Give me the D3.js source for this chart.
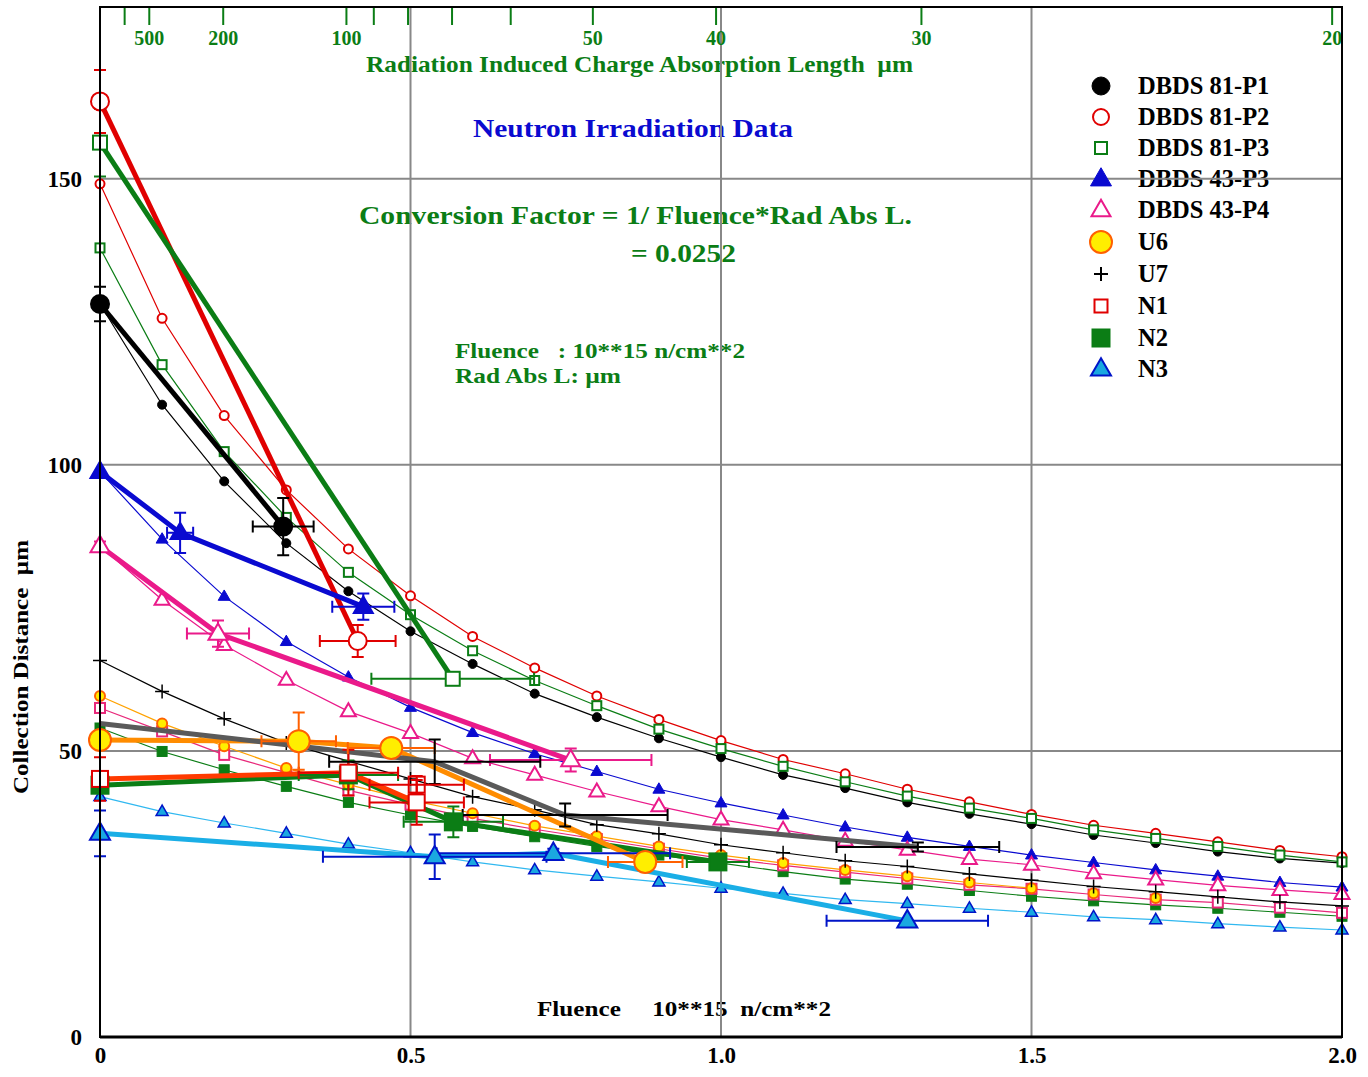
<!DOCTYPE html>
<html><head><meta charset="utf-8">
<script src="https://cdn.jsdelivr.net/npm/d3@7"></script>
<style>
body{margin:0;background:#fff}
text{font-family:"Liberation Serif","Times New Roman",serif;font-weight:bold;white-space:pre}
</style></head><body>
<svg id="chart"></svg>
<script>
// fluence grid of the computed curves (10**15 n/cm**2)
var fluenceGrid = [0,0.1,0.2,0.3,0.4,0.5,0.6,0.7,0.8,0.9,1.0,1.1,1.2,1.3,1.4,1.5,1.6,1.7,1.8,1.9,2.0];
var fitP1   = [128.1,110.5,97.1,86.3,77.9,70.9,65.2,60.0,55.9,52.2,48.9,45.8,43.5,41.0,39.0,37.2,35.3,33.9,32.4,31.2,30.4];
var fitP2   = [149.1,125.6,108.6,95.6,85.3,77.1,70.0,64.5,59.6,55.5,51.8,48.5,46.0,43.3,41.1,38.9,37.0,35.6,34.1,32.6,31.5];
var fitP3   = [137.9,117.5,102.3,90.8,81.2,73.8,67.5,62.3,57.9,53.8,50.4,47.3,44.6,42.1,40.0,38.2,36.2,34.7,33.3,31.8,30.6];
var fit43P3 = [98.8,87.0,77.0,69.1,62.9,57.6,53.2,49.5,46.4,43.3,40.9,38.8,36.7,34.9,33.3,31.8,30.5,29.2,28.1,27.0,26.2];
var fit43P4 = [85.8,76.4,68.5,62.4,56.9,53.1,48.7,45.8,42.9,40.3,38.0,36.2,34.3,32.7,31.1,30.1,28.6,27.5,26.5,25.7,25.0];
var fitU6   = [59.6,54.8,50.8,47.0,44.1,41.4,39.1,36.9,35.1,33.3,31.8,30.4,29.2,28.1,27.0,26.0,25.1,24.3];
var fitU7   = [65.8,60.4,55.6,51.4,48.2,45.1,42.0,39.7,37.1,35.5,33.6,32.2,30.8,29.8,28.5,27.4,26.3,25.4,24.5,23.6,22.9];
var fitN1   = [57.5,53.4,49.3,46.2,43.1,40.6,38.2,36.3,34.6,32.9,31.2,30.0,28.8,27.7,26.6,25.9,24.9,24.0,23.5,22.6,21.7];
var fitN2   = [54.0,49.9,46.7,43.8,41.0,38.8,36.8,35.0,33.3,31.8,30.4,28.9,27.6,26.7,25.6,24.6,23.8,23.1,22.5,21.8,21.1];
var fitN3   = [42.0,39.4,37.4,35.6,33.7,32.2,30.6,29.2,28.1,27.1,26.0,25.1,24.0,23.3,22.5,21.8,21.0,20.5,19.8,19.2,18.7];

// measured points: [fluence, distance, fluence error, distance error]
var measP1   = [[0,128.1,0,3.0],[0.295,89.2,0.049,5.0]];
var measP2   = [[0,163.5,0,5.5],[0.415,69.2,0.061,2.8]];
var measP3   = [[0,156.3,0,5.9],[0.568,62.6,0.131,0.8]];
var meas43P3 = [[0,98.8,0,0],[0.129,88.1,0.021,3.5],[0.424,75.2,0.05,2.3]];
var meas43P4 = [[0,85.8,0,0.8],[0.19,70.5,0.05,2.3],[0.758,48.4,0.13,2.0]];
var measU6   = [[0,51.9,0,0],[0.32,51.7,0.06,5.0],[0.469,50.5,0.07,0.8],[0.878,30.6,0.06,0]];
var measU7   = [[0,54.8,0,0],[0.539,48.1,0.17,3.9],[0.749,38.8,0.165,2.0],[1.317,33.2,0.131,0.8]];
var measN1   = [[0,45.1,0,3.8],[0.4,46.2,0.08,4.0],[0.51,41.0,0.076,3.9]];
var extraN1  = [[0.51,44.1,0.076,1.5]];
var measN2   = [[0,44.0,0,0],[0.4,45.8,0.08,2.5],[0.569,37.6,0.08,2.7],[0.995,30.6,0.05,0]];
var measN3   = [[0,35.6,0,4.0],[0.539,31.5,0.18,3.9],[0.73,32.1,0.188,0.8],[1.3,20.3,0.13,0]];

var legendNames = ["DBDS 81-P1","DBDS 81-P2","DBDS 81-P3","DBDS 43-P3","DBDS 43-P4","U6","U7","N1","N2","N3"];
var xTicks = [0,0.5,1.0,1.5,2.0];
var yTicks = [0,50,100,150];
var absLengthTicks = [1000,500,200,100,90,80,70,60,50,40,30,20];
var absLengthLabels = [500,200,100,50,40,30,20];
var convFactor = 0.0252;

var W = 1368, H = 1077;
var plotL = 100, plotR = 1342, plotT = 7, plotB = 1037;

var svg = d3.select("#chart").attr("width", W).attr("height", H);
var x = d3.scaleLinear().domain([0, 2]).range([plotL, plotR]);
var y = d3.scaleLinear().domain([0, 180]).range([plotB, plotT]);

var green = "#0b7d15", red = "#e00000", blue = "#0a0ad0", magenta = "#ea1a8a";

// ---------- texts (under the grid) ----------
function label(txt, px, py, size, color, anchor, len) {
    var t = svg.append("text").attr("x", px).attr("y", py)
        .attr("font-size", size).attr("fill", color)
        .attr("text-anchor", anchor || "start").text(txt);
    if (len) t.attr("textLength", len).attr("lengthAdjust", "spacingAndGlyphs");
    return t;
}
label("Radiation Induced Charge Absorption Length  \u00b5m", 366, 72, 23, green, "start", 547);
label("Neutron Irradiation Data", 473, 137, 26, blue, "start", 320);
label("Conversion Factor = 1/ Fluence*Rad Abs L.", 359, 224, 26, green, "start", 553);
label("= 0.0252", 631, 262, 26, green, "start", 105);
label("Fluence   : 10**15 n/cm**2", 455, 358, 22, green, "start", 290);
label("Rad Abs L: \u00b5m", 455, 383, 22, green, "start", 166);
label("Fluence     10**15  n/cm**2", 537, 1016, 22, "#000", "start", 294);
svg.append("text").attr("transform", "translate(28,667) rotate(-90)")
    .attr("text-anchor", "middle").attr("font-size", 22).attr("fill", "#000")
    .attr("textLength", 254).attr("lengthAdjust", "spacingAndGlyphs")
    .text("Collection Distance  \u00b5m");

// legend text
var legendY = [86,117,148,179,210,242,274,306,338,369];
legendNames.forEach(function(n, i) {
    label(n, 1138, legendY[i] + 8, 24.5, "#000");
});

// ---------- grid ----------
var grid = svg.append("g").attr("stroke", "#888").attr("stroke-width", 2);
[0.5, 1.0, 1.5].forEach(function(v) {
    grid.append("line").attr("x1", x(v)).attr("x2", x(v)).attr("y1", plotT).attr("y2", plotB);
});
[50, 100, 150].forEach(function(v) {
    grid.append("line").attr("x1", plotL).attr("x2", plotR).attr("y1", y(v)).attr("y2", y(v));
});

// ---------- axes ----------
var xAxis = svg.append("g").attr("transform", "translate(0," + plotB + ")")
    .call(d3.axisBottom(x).tickValues(xTicks).tickSize(0).tickPadding(10)
        .tickFormat(function(d) { return d === 0 ? "0" : d.toFixed(1); }));
xAxis.select(".domain").remove();
xAxis.selectAll("text").attr("font-size", 23).attr("font-family", null).attr("fill", "#000");

var yAxis = svg.append("g").attr("transform", "translate(" + plotL + ",0)")
    .call(d3.axisLeft(y).tickValues(yTicks).tickSize(0).tickPadding(18));
yAxis.select(".domain").remove();
yAxis.selectAll("text").attr("font-size", 23).attr("font-family", null).attr("fill", "#000");

// top axis: absorption length L -> fluence = 1/(L*factor)
var topAx = svg.append("g");
absLengthTicks.forEach(function(L) {
    var px = x(1 / (L * convFactor));
    topAx.append("line").attr("x1", px).attr("x2", px).attr("y1", plotT).attr("y2", plotT + 18)
        .attr("stroke", green).attr("stroke-width", 2);
});
absLengthLabels.forEach(function(L) {
    label(String(L), x(1 / (L * convFactor)), 45, 20, green, "middle");
});

// ---------- markers ----------
function drawMarker(g, type, px, py, s, fill, stroke, sw) {
    var el;
    if (type === "circle") {
        el = g.append("circle").attr("cx", px).attr("cy", py).attr("r", s);
    } else if (type === "square") {
        el = g.append("rect").attr("x", px - s / 2).attr("y", py - s / 2).attr("width", s).attr("height", s);
    } else if (type === "triangle") {
        var h = s * Math.sqrt(3) / 2;
        el = g.append("path").attr("d", "M" + px + "," + (py - h * 0.62) + "L" + (px - s / 2) + "," + (py + h * 0.38) +
            "L" + (px + s / 2) + "," + (py + h * 0.38) + "Z");
    } else if (type === "plus") {
        el = g.append("path").attr("d", "M" + (px - s / 2) + "," + py + "H" + (px + s / 2) +
            "M" + px + "," + (py - s / 2) + "V" + (py + s / 2));
        fill = "none";
    }
    el.attr("fill", fill).attr("stroke", stroke).attr("stroke-width", sw);
}

// lineEnd: number of fit points joined by the thin line (U6 curve stops at 1.5)
var series = [
    {fit: fitP1, meas: measP1, type: "circle", small: 4.5, big: 9, fill: "#000", stroke: "#000", sw: 1,
     thin: "#000", thick: "#000", err: "#000"},
    {fit: fitP2, meas: measP2, type: "circle", small: 4.5, big: 9, fill: "#fff", stroke: red, sw: 2,
     thin: red, thick: red, err: red},
    {fit: fitP3, meas: measP3, type: "square", small: 9, big: 14, fill: "#fff", stroke: green, sw: 2,
     thin: green, thick: green, err: green},
    {fit: fit43P3, meas: meas43P3, type: "triangle", small: 12, big: 19, fill: blue, stroke: blue, sw: 1,
     thin: blue, thick: blue, err: blue},
    {fit: fit43P4, meas: meas43P4, type: "triangle", small: 15, big: 19, fill: "#fff", stroke: magenta, sw: 2,
     thin: magenta, thick: magenta, err: magenta},
    {fit: fitN2, meas: measN2, type: "square", small: 10, big: 17, fill: green, stroke: green, sw: 1,
     thin: green, thick: green, err: green},
    {fit: fitN3, meas: measN3, type: "triangle", small: 12, big: 20, fill: "#1aa8e0", stroke: "#0014c8", sw: 1.5,
     thin: "#30b8f0", thick: "#1aaee6", err: "#0014c8"},
    {fit: fitN1, meas: measN1, type: "square", small: 10, big: 16, fill: "#fff", stroke: "#e8287a", sw: 2,
     thin: "#e8287a", thick: "#ff3a00", err: red, bigStroke: red},
    {fit: fitU6, meas: measU6, type: "circle", small: 5, big: 11, fill: "#ffee00", stroke: "#ff6000", sw: 2,
     thin: "#ffa200", thick: "#ff8c00", err: "#ff6000", lineEnd: 16},
    {fit: fitU7, meas: measU7, type: "plus", small: 14, big: 14, fill: "none", stroke: "#000", sw: 2,
     thin: "#000", thick: "#5a5a5a", err: "#000"}
];

var line = d3.line().x(function(d) { return x(d[0]); }).y(function(d) { return y(d[1]); });

// thin computed curves
var thinG = svg.append("g");
series.forEach(function(s) {
    var pts = s.fit.map(function(v, i) { return [fluenceGrid[i], v]; });
    thinG.append("path").attr("d", line(pts.slice(0, s.lineEnd || pts.length))).attr("fill", "none")
        .attr("stroke", s.thin).attr("stroke-width", 1.2);
    pts.forEach(function(p) {
        drawMarker(thinG, s.type, x(p[0]), y(p[1]), s.small, s.fill, s.stroke, s.type === "plus" ? 1.5 : s.sw);
    });
});

// thick measured lines
var thickG = svg.append("g");
series.forEach(function(s) {
    thickG.append("path").attr("d", line(s.meas)).attr("fill", "none")
        .attr("stroke", s.thick).attr("stroke-width", 5).attr("stroke-linejoin", "round");
});

// error bars
function errorBars(g, pts, color) {
    pts.forEach(function(p) {
        var px = x(p[0]), py = y(p[1]);
        if (p[2] > 0) {
            var x1 = x(p[0] - p[2]), x2 = x(p[0] + p[2]);
            g.append("path").attr("d", "M" + x1 + "," + py + "H" + x2 + "M" + x1 + "," + (py - 6) + "V" + (py + 6) +
                "M" + x2 + "," + (py - 6) + "V" + (py + 6));
        }
        if (p[3] > 0) {
            var y1 = y(p[1] + p[3]), y2 = y(p[1] - p[3]);
            g.append("path").attr("d", "M" + px + "," + y1 + "V" + y2 + "M" + (px - 6) + "," + y1 + "H" + (px + 6) +
                "M" + (px - 6) + "," + y2 + "H" + (px + 6));
        }
    });
    g.attr("stroke", color).attr("stroke-width", 2).attr("fill", "none");
}
series.forEach(function(s) { errorBars(svg.append("g"), s.meas, s.err); });
errorBars(svg.append("g"), extraN1, red);

// big measured markers
var bigG = svg.append("g");
series.forEach(function(s) {
    if (s.type === "plus") return;
    s.meas.forEach(function(p) {
        drawMarker(bigG, s.type, x(p[0]), y(p[1]), s.big, s.fill, s.bigStroke || s.stroke, 2);
    });
});
extraN1.forEach(function(p) { drawMarker(bigG, "square", x(p[0]), y(p[1]), 16, "none", red, 2); });

// frame
svg.append("rect").attr("x", plotL).attr("y", plotT).attr("width", plotR - plotL).attr("height", plotB - plotT)
    .attr("fill", "none").attr("stroke", "#000").attr("stroke-width", 2);
svg.append("line").attr("x1", plotL).attr("x2", plotR).attr("y1", plotB).attr("y2", plotB)
    .attr("stroke", "#000").attr("stroke-width", 3);

// legend markers
var legendMarkers = [
    ["circle", 9, "#000", "#000", 1], ["circle", 8, "#fff", red, 2], ["square", 12, "#fff", green, 2],
    ["triangle", 21, blue, blue, 1], ["triangle", 19, "#fff", magenta, 2], ["circle", 11, "#ffee00", "#ff6000", 2],
    ["plus", 14, "none", "#000", 2], ["square", 13, "#fff", red, 2], ["square", 18, green, green, 1],
    ["triangle", 20, "#1aa8e0", "#0014c8", 2]
];
var legG = svg.append("g");
legendMarkers.forEach(function(m, i) {
    drawMarker(legG, m[0], 1101, legendY[i], m[1], m[2], m[3], m[4]);
});
</script></body></html>
